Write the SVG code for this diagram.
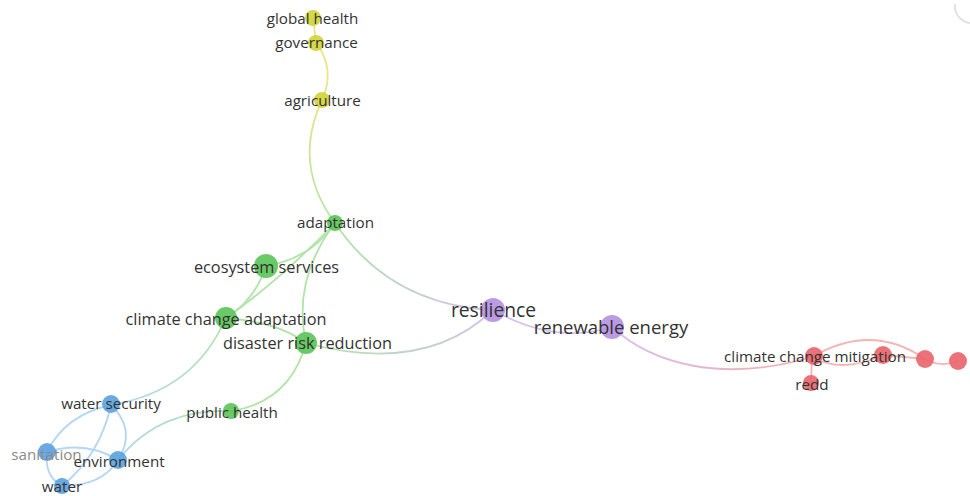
<svg xmlns="http://www.w3.org/2000/svg" width="970" height="496" viewBox="0 0 970 496">
<style>
text{font-family:"Open Sans","Noto Sans","Liberation Sans",sans-serif;fill:#333;text-anchor:middle;dominant-baseline:central}
.s13{font-size:15.2px}
.s14{font-size:16.3px}
.s16{font-size:18.5px}
.s17{font-size:19.3px}
.e{fill:none;stroke-width:1.8;stroke-linecap:round}
.ey{stroke:#e6e68a}
.eg{stroke:#b2e3a8}
.eb{stroke:#b5d6f3}
.er{stroke:#f6b4b4}
.ep{stroke:#d6c2ee}
.ny{fill:#d3d43c}
.ng{fill:#5cc65a}
.nb{fill:#5ea3de}
.np{fill:#b592e2}
.nr{fill:#e9666c}
circle{fill-opacity:0.92}
</style>
<defs>
<linearGradient id="gAgr" gradientUnits="userSpaceOnUse" x1="322" y1="100" x2="335" y2="223"><stop offset="0" stop-color="#e6e68a"/><stop offset="1" stop-color="#b2e3a8"/></linearGradient>
<linearGradient id="gAdRes" gradientUnits="userSpaceOnUse" x1="335" y1="223" x2="493" y2="310"><stop offset="0" stop-color="#b2e3a8"/><stop offset="1" stop-color="#d2c4ec"/></linearGradient>
<linearGradient id="gDrrRes" gradientUnits="userSpaceOnUse" x1="306" y1="343" x2="493" y2="310"><stop offset="0" stop-color="#b2e3a8"/><stop offset="1" stop-color="#d2c4ec"/></linearGradient>
<linearGradient id="gReCcm" gradientUnits="userSpaceOnUse" x1="612" y1="327" x2="815" y2="356"><stop offset="0" stop-color="#d6c2ee"/><stop offset="1" stop-color="#f6aaaa"/></linearGradient>
<linearGradient id="gCcaWs" gradientUnits="userSpaceOnUse" x1="226" y1="318" x2="111" y2="405"><stop offset="0" stop-color="#b2e3a8"/><stop offset="1" stop-color="#b5d6f3"/></linearGradient>
<linearGradient id="gPhEnv" gradientUnits="userSpaceOnUse" x1="231" y1="411" x2="118" y2="460"><stop offset="0" stop-color="#b2e3a8"/><stop offset="1" stop-color="#b5d6f3"/></linearGradient>
</defs>
<rect width="970" height="496" fill="#ffffff"/>
<path d="M955,4 A17,17 0 0 0 970,23" fill="none" stroke="#e2e2e2" stroke-width="2"/>
<g id="connectors">
<path class="e ey" d="M313,18 L316,42"/>
<path class="e ey" d="M316,42 Q336,70 322,100"/>
<path class="e" stroke="url(#gAgr)" d="M322,100 Q292,165 335,223"/>
<path class="e eg" d="M266,266 Q312,258 335,223"/>
<path class="e eg" d="M226,318 Q280,280 335,223"/>
<path class="e eg" d="M266,266 Q255,300 226,318"/>
<path class="e eg" d="M226,318 Q278,322 306,343"/>
<path class="e eg" d="M335,223 Q292,280 306,343"/>
<path class="e" stroke="url(#gCcaWs)" d="M226,318 C205,365 170,395 111,405"/>
<path class="e eg" d="M306,343 Q290,402 231,411"/>
<path class="e" stroke="url(#gPhEnv)" d="M231,411 C190,410 150,420 118,460"/>
<path class="e" stroke="url(#gDrrRes)" d="M306,343 Q425,375 493,310"/>
<path class="e" stroke="url(#gAdRes)" d="M335,223 Q390,305 493,310"/>
<path class="e ep" d="M493,310 Q555,345 612,327"/>
<path class="e" stroke="url(#gReCcm)" d="M612,327 C650,362 720,385 815,356"/>
<path class="e er" d="M812,357 L811,383"/>
<path class="e er" d="M812,357 Q842,374 883,355"/>
<path class="e er" d="M812,357 Q872,322 925,359"/>
<path class="e er" d="M883,355 L925,359"/>
<path class="e er" d="M925,359 Q941,368 958,361"/>
<path class="e eb" d="M111,405 Q65,415 47,452"/>
<path class="e eb" d="M111,405 Q137,430 118,460"/>
<path class="e eb" d="M111,405 Q100,455 62,486"/>
<path class="e eb" d="M47,452 Q85,440 118,460"/>
<path class="e eb" d="M47,452 Q44,476 62,486"/>
<path class="e eb" d="M118,460 Q102,486 62,486"/>
</g>
<g id="n-unlabeled-3"><circle class="nr" cx="925" cy="359" r="9"/></g>
<g id="n-unlabeled-4"><circle class="nr" cx="958" cy="361" r="9"/></g>
<g id="n-unlabeled-2"><circle class="nr" cx="883" cy="355" r="9"/></g>
<g id="n-redd"><circle class="nr" cx="811" cy="383" r="8"/><text class="s13" x="812" y="384">redd</text></g>
<g id="n-ccm"><circle class="nr" cx="814" cy="356" r="9"/><text class="s13" x="815" y="356">climate change mitigation</text></g>
<g id="n-global-health"><circle class="ny" cx="313" cy="18" r="8"/><text class="s13" x="312.5" y="18">global health</text></g>
<g id="n-governance"><circle class="ny" cx="316" cy="43" r="8"/><text class="s13" x="316.5" y="42">governance</text></g>
<g id="n-agriculture"><circle class="ny" cx="322" cy="100" r="8"/><text class="s13" x="322.5" y="100">agriculture</text></g>
<g id="n-adaptation"><circle class="ng" cx="335" cy="223" r="8"/><text class="s13" x="335.5" y="222">adaptation</text></g>
<g id="n-ecosystem-services"><circle class="ng" cx="266" cy="266" r="12"/><text class="s14" x="266.5" y="267">ecosystem services</text></g>
<g id="n-public-health"><circle class="ng" cx="231" cy="411" r="8"/><text class="s13" x="232" y="412">public health</text></g>
<g id="n-drr"><circle class="ng" cx="306" cy="343" r="11"/><text class="s14" x="307.5" y="343">disaster risk reduction</text></g>
<g id="n-cca"><circle class="ng" cx="226" cy="318" r="11"/><text class="s14" x="226" y="319">climate change adaptation</text></g>
<g id="n-resilience"><circle class="np" cx="493" cy="310" r="12"/><text class="s17" x="493.5" y="309">resilience</text></g>
<g id="n-renewable-energy"><circle class="np" cx="612" cy="327" r="12"/><text class="s16" x="611" y="326">renewable energy</text></g>
<g id="n-water"><circle class="nb" cx="62" cy="486" r="8"/><text class="s13" x="62" y="485.5">water</text></g>
<g id="n-sanitation"><circle class="nb" cx="47" cy="452" r="9"/><text class="s13" x="46.5" y="454" style="fill:#8a8a8a">sanitation</text></g>
<g id="n-environment"><circle class="nb" cx="118" cy="460" r="9"/><text class="s13" x="119" y="461">environment</text></g>
<g id="n-water-security"><circle class="nb" cx="111" cy="404" r="9"/><text class="s13" x="111" y="403">water security</text></g>
</svg>
